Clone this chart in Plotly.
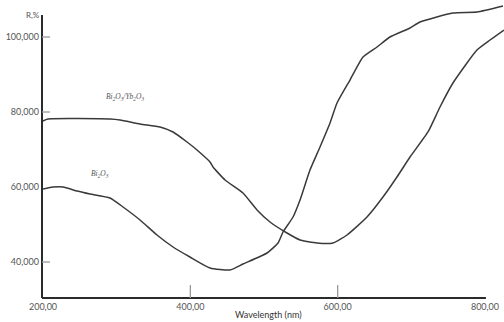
import plotly.graph_objects as go

# Diffuse reflectance spectra
wl_doped = [199.6, 206.8, 290.9, 304.5, 331.7, 358.8, 376.5, 395.5, 409.0, 426.7,
            430.8, 447.1, 471.5, 490.5, 508.1, 531.2, 548.9, 571.9, 593.6, 612.6,
            639.8, 661.5, 680.5, 698.2, 722.6, 738.9, 756.5, 789.1, 806.8, 825.8]
r_doped = [77.6, 78.13, 78.13, 77.87, 76.8, 76.0, 74.67, 72.0, 69.87, 66.67,
           65.33, 61.87, 58.4, 53.87, 50.67, 47.73, 45.87, 45.07, 45.07, 47.2,
           52.0, 57.33, 62.67, 68.0, 74.67, 81.33, 87.73, 96.53, 99.2, 101.87]

wl_pure = [200.0, 213.6, 227.1, 246.2, 263.8, 290.9, 308.6, 331.7, 354.7, 376.5,
           399.5, 426.7, 453.8, 471.5, 504.1, 519.0, 525.8, 539.4, 548.9, 562.4,
           576.0, 589.6, 599.1, 616.7, 634.4, 653.4, 671.0, 698.2, 711.7, 756.5,
           789.1, 824.4]
r_pure = [59.47, 60.0, 60.0, 58.93, 58.13, 57.07, 54.67, 51.2, 47.2, 44.0,
          41.33, 38.4, 37.87, 39.47, 42.4, 45.07, 48.0, 52.0, 56.53, 64.53,
          70.67, 77.07, 82.4, 88.53, 94.67, 97.33, 100.0, 102.4, 104.0, 106.4,
          106.67, 108.27]

x_ticks = [200, 400, 600, 800]
x_ticktext = ["200,00", "400,00", "600,00", "800,00"]
y_ticks = [40, 60, 80, 100]
y_ticktext = ["40,000", "60,000", "80,000", "100,000"]

X_RANGE = [198.6, 825.8]
Y_RANGE = [30.4, 109.87]
X_AXIS_END = 801.3
Y_AXIS_TOP = 105.87

line_style = dict(color="#3a3a3a", width=1.5, shape="spline", smoothing=0.5)

fig = go.Figure()
fig.add_trace(go.Scatter(x=wl_doped, y=r_doped, mode="lines", line=line_style,
                         name="Bi2O3/Yb2O3", showlegend=False))
fig.add_trace(go.Scatter(x=wl_pure, y=r_pure, mode="lines", line=line_style,
                         name="Bi2O3", showlegend=False))

tick_font = dict(family="Lato, Open Sans, sans-serif", size=9, color="#555555")

fig.update_xaxes(range=X_RANGE, tickvals=x_ticks, ticktext=x_ticktext,
                 showgrid=False, zeroline=False, showline=False, ticks="",
                 tickfont=tick_font, ticklabelstandoff=2)
fig.update_yaxes(range=Y_RANGE, tickvals=y_ticks, ticktext=y_ticktext,
                 showgrid=False, zeroline=False, showline=False, ticks="",
                 tickfont=tick_font, ticklabelstandoff=2)

shapes = [
    # axis lines
    dict(type="line", xref="paper", yref="y", x0=0, x1=0, y0=Y_RANGE[0], y1=Y_AXIS_TOP,
         line=dict(color="#2b2b2b", width=2)),
    dict(type="line", xref="x", yref="paper", x0=X_RANGE[0], x1=X_AXIS_END, y0=0, y1=0,
         line=dict(color="#2b2b2b", width=2)),
]
for v in [40, 80, 100]:
    shapes.append(dict(type="line", xref="paper", yref="y", x0=0, x1=8 / 462, y0=v, y1=v,
                       line=dict(color="#9a9a9a", width=1.3)))
for v in [400, 600]:
    shapes.append(dict(type="line", xref="x", yref="paper", x0=v, x1=v, y0=0, y1=13 / 298,
                       line=dict(color="#9a9a9a", width=1.3)))

label_font = dict(family="Liberation Serif, serif", size=7.5, color="#555555")
annotations = [
    dict(text="<i>Bi<sub>2</sub>O<sub>3</sub>/Yb<sub>2</sub>O<sub>3</sub></i>",
         x=311, y=84.0, xref="x", yref="y", showarrow=False, font=label_font),
    dict(text="<i>Bi<sub>2</sub>O<sub>3</sub></i>",
         x=277, y=63.4, xref="x", yref="y", showarrow=False, font=label_font),
    dict(text="Wavelength (nm)", x=(268 - 42) / 462, y=0, xref="paper", yref="paper",
         yanchor="top", yshift=-9, showarrow=False,
         font=dict(family="Lato, Open Sans, sans-serif", size=9, color="#333333")),
    dict(text="R,%", x=-18 / 462, y=Y_AXIS_TOP, xref="paper", yref="y", showarrow=False,
         font=dict(family="Lato, Open Sans, sans-serif", size=8, color="#555555")),
]

fig.update_layout(width=504, height=322, margin=dict(l=42, r=0, t=0, b=24),
                  paper_bgcolor="white", plot_bgcolor="white",
                  shapes=shapes, annotations=annotations)

fig.write_html("out.html")
